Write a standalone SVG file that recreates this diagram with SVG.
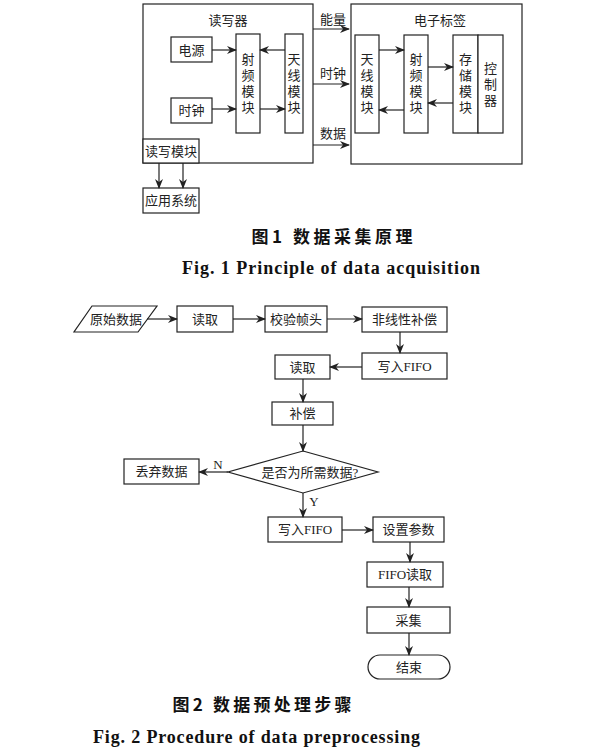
<svg xmlns="http://www.w3.org/2000/svg" width="600" height="749" viewBox="0 0 600 749">
<style>
.b{fill:#fff;stroke:#222;stroke-width:1.2}
.l{fill:none;stroke:#222;stroke-width:1.2}
.a{fill:none;stroke:#222;stroke-width:1.2;marker-end:url(#ah)}
.t{font-family:"Liberation Serif","Noto Sans CJK SC",serif;font-size:13px;fill:#222;text-anchor:middle}
.cz{font-family:"Noto Sans CJK SC",sans-serif;font-size:17px;font-weight:bold;fill:#111;text-anchor:middle}
.ce{font-family:"Liberation Serif",serif;font-size:18px;font-weight:bold;fill:#111;text-anchor:middle}
</style>
<defs>
<marker id="ah" markerWidth="10" markerHeight="8" refX="9" refY="4" orient="auto" markerUnits="userSpaceOnUse"><path d="M0,0 L10,4 L0,8 L3,4 z" fill="#222"/></marker>
</defs>
<rect width="600" height="749" fill="#fff"/>

<!-- Fig 1 -->
<g id="reader"><rect class="b" x="143" y="4" width="170" height="159"/><text class="t" x="228" y="25">读写器</text></g>
<g id="power"><rect class="b" x="171" y="37" width="41" height="25"/><text class="t" x="191.5" y="54.5">电源</text></g>
<g id="clock"><rect class="b" x="171" y="98" width="41" height="25"/><text class="t" x="191.5" y="115">时钟</text></g>
<g id="rf1"><rect class="b" x="236" y="34" width="24" height="99"/><text class="t"><tspan x="248" y="64">射</tspan><tspan x="248" y="80">频</tspan><tspan x="248" y="96">模</tspan><tspan x="248" y="112">块</tspan></text></g>
<g id="ant1"><rect class="b" x="285" y="34" width="18" height="99"/><text class="t"><tspan x="294" y="64">天</tspan><tspan x="294" y="80">线</tspan><tspan x="294" y="96">模</tspan><tspan x="294" y="112">块</tspan></text></g>
<g id="rwmod"><rect class="b" x="143" y="139" width="56" height="24"/><text class="t" x="171" y="155.5">读写模块</text></g>
<g id="app"><rect class="b" x="143" y="188" width="56" height="25"/><text class="t" x="171" y="205">应用系统</text></g>

<g id="tag"><rect class="b" x="351" y="4" width="171" height="160"/><text class="t" x="440" y="25">电子标签</text></g>
<g id="ant2"><rect class="b" x="355" y="35" width="24" height="98"/><text class="t"><tspan x="367" y="64">天</tspan><tspan x="367" y="80">线</tspan><tspan x="367" y="96">模</tspan><tspan x="367" y="112">块</tspan></text></g>
<g id="rf2"><rect class="b" x="404" y="35" width="24" height="98"/><text class="t"><tspan x="416" y="64">射</tspan><tspan x="416" y="80">频</tspan><tspan x="416" y="96">模</tspan><tspan x="416" y="112">块</tspan></text></g>
<g id="mem"><rect class="b" x="453" y="35" width="25" height="98"/><text class="t"><tspan x="465.5" y="64">存</tspan><tspan x="465.5" y="80">储</tspan><tspan x="465.5" y="96">模</tspan><tspan x="465.5" y="112">块</tspan></text></g>
<g id="ctrl"><rect class="b" x="478" y="35" width="25" height="98"/><text class="t"><tspan x="490.5" y="73">控</tspan><tspan x="490.5" y="89">制</tspan><tspan x="490.5" y="105">器</tspan></text></g>

<g id="labels1">
<text class="t" x="333" y="24">能量</text>
<text class="t" x="333" y="78">时钟</text>
<text class="t" x="333" y="138">数据</text>
</g>

<!-- Fig 2 -->
<g id="raw"><polygon class="b" points="92,306 157,306 138,332 74,332"/><text class="t" x="116" y="323.5">原始数据</text></g>
<g id="read1"><rect class="b" x="177" y="306" width="56" height="26"/><text class="t" x="205" y="323.5">读取</text></g>
<g id="check"><rect class="b" x="265" y="306" width="62" height="26"/><text class="t" x="296" y="323.5">校验帧头</text></g>
<g id="nonlin"><rect class="b" x="362" y="307" width="85" height="25"/><text class="t" x="404.5" y="324">非线性补偿</text></g>
<g id="wfifo1"><rect class="b" x="362" y="353" width="85" height="26"/><text class="t" x="404.5" y="370.5">写入FIFO</text></g>
<g id="read2"><rect class="b" x="275" y="355" width="55" height="24"/><text class="t" x="302.5" y="371.5">读取</text></g>
<g id="comp"><rect class="b" x="272" y="402" width="61" height="23"/><text class="t" x="302.5" y="418">补偿</text></g>
<g id="dec"><polygon class="b" points="303,451 378,472 303,493 228,472"/><text class="t" x="310" y="476.5">是否为所需数据?</text></g>
<g id="drop"><rect class="b" x="124" y="459" width="75" height="25"/><text class="t" x="161.5" y="476">丢弃数据</text></g>
<g id="wfifo2"><rect class="b" x="268" y="517" width="74" height="25"/><text class="t" x="305" y="534">写入FIFO</text></g>
<g id="param"><rect class="b" x="373" y="517" width="71" height="25"/><text class="t" x="408.5" y="534">设置参数</text></g>
<g id="fread"><rect class="b" x="367" y="562" width="76" height="25"/><text class="t" x="405" y="579">FIFO读取</text></g>
<g id="acq"><rect class="b" x="367" y="607" width="83" height="26"/><text class="t" x="408.5" y="624.5">采集</text></g>
<g id="end"><rect class="b" x="368" y="655" width="82" height="24" rx="12" ry="12"/><text class="t" x="409" y="671.5">结束</text></g>

<g id="connectors">
<line class="a" x1="212" y1="50" x2="236" y2="50"/>
<line class="a" x1="212" y1="109" x2="236" y2="109"/>
<line class="a" x1="285" y1="50" x2="260" y2="50"/>
<line class="a" x1="260" y1="109" x2="285" y2="109"/>
<line class="a" x1="313" y1="29" x2="349" y2="29"/>
<line class="a" x1="313" y1="84" x2="349" y2="84"/>
<line class="a" x1="313" y1="145" x2="349" y2="145"/>
<line class="a" x1="159" y1="163" x2="159" y2="188"/>
<line class="a" x1="183" y1="163" x2="183" y2="188"/>
<line class="a" x1="379" y1="50" x2="404" y2="50"/>
<line class="a" x1="404" y1="110" x2="379" y2="110"/>
<line class="a" x1="428" y1="67" x2="453" y2="67"/>
<line class="a" x1="453" y1="103" x2="428" y2="103"/>

<line class="a" x1="147" y1="319" x2="177" y2="319"/>
<line class="a" x1="233" y1="319" x2="265" y2="319"/>
<line class="a" x1="327" y1="319" x2="362" y2="319"/>
<line class="a" x1="400" y1="332" x2="400" y2="353"/>
<line class="a" x1="362" y1="367" x2="330" y2="367"/>
<line class="a" x1="303" y1="379" x2="303" y2="402"/>
<line class="a" x1="303" y1="425" x2="303" y2="451"/>
<line class="a" x1="228" y1="472" x2="199" y2="472"/>
<line class="a" x1="303" y1="493" x2="303" y2="517"/>
<line class="a" x1="342" y1="530" x2="373" y2="530"/>
<line class="a" x1="410" y1="542" x2="410" y2="562"/>
<line class="a" x1="409" y1="587" x2="409" y2="607"/>
<line class="a" x1="409" y1="633" x2="409" y2="655"/>
<text class="t" x="218" y="469">N</text>
<text class="t" x="314" y="506">Y</text>
</g>

<g id="captions">
<text class="cz" x="332" y="243" textLength="161" lengthAdjust="spacing">图1  数据采集原理</text>
<text class="ce" x="331" y="274" textLength="298" lengthAdjust="spacing">Fig. 1  Principle of data acquisition</text>
<text class="cz" x="262" y="711" textLength="179" lengthAdjust="spacing">图2  数据预处理步骤</text>
<text class="ce" x="256.5" y="743" textLength="327" lengthAdjust="spacing">Fig. 2  Procedure of data preprocessing</text>
</g>
</svg>
